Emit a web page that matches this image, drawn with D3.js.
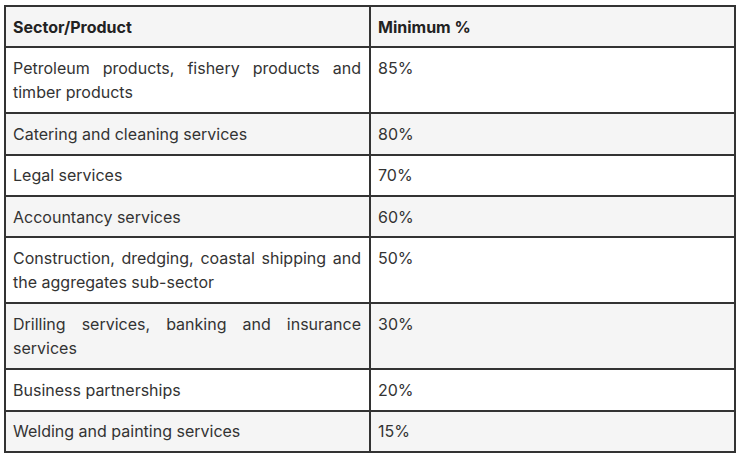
<!DOCTYPE html>
<html lang="en">
<head>
	<meta charset="UTF-8">
	<title>Minimum local content</title>
	<script src="https://cdn.jsdelivr.net/npm/d3@7"></script>
	<style>
		html, body { margin: 0; padding: 0; background: #fff; }
		body { font-family: Inter, "Noto Sans", sans-serif; font-size: 16px; color: #333; }
		table {
			position: absolute; left: 4px; top: 5px;
			width: 732px; border-collapse: collapse; table-layout: fixed;
		}
		th, td {
			border: 2px solid #333; padding: 7.5px 8px 7.4px 7px;
			line-height: 24.5px; vertical-align: top;
		}
		th { text-align: left; font-weight: 700; color: #222; background: #f5f5f5; }
		td.sector { text-align: justify; }
		tr.alt td { background: #f5f5f5; }
	</style>
</head>
<body>
	<div id="chart"></div>
	<script>
		// table contents
		var headers = ['Sector/Product', 'Minimum %'];
		var sectors = [
			'Petroleum products, fishery products and timber products',
			'Catering and cleaning services',
			'Legal services',
			'Accountancy services',
			'Construction, dredging, coastal shipping and the aggregates sub-sector',
			'Drilling services, banking and insurance services',
			'Business partnerships',
			'Welding and painting services'
		];
		var minimums = [85, 80, 70, 60, 50, 30, 20, 15];

		var table = d3.select('#chart').append('table');
		var colgroup = table.append('colgroup');
		colgroup.append('col').style('width', '365px');
		colgroup.append('col');

		table.append('thead').append('tr')
			.selectAll('th')
			.data(headers)
			.enter().append('th')
			.text(function (d) { return d; });

		var rows = table.append('tbody')
			.selectAll('tr')
			.data(sectors.map(function (s, i) { return { sector: s, min: minimums[i] }; }))
			.enter().append('tr')
			.classed('alt', function (d, i) { return i % 2 === 1; });

		rows.append('td').attr('class', 'sector').text(function (d) { return d.sector; });
		rows.append('td').text(function (d) { return d.min + '%'; });
	</script>
</body>
</html>
